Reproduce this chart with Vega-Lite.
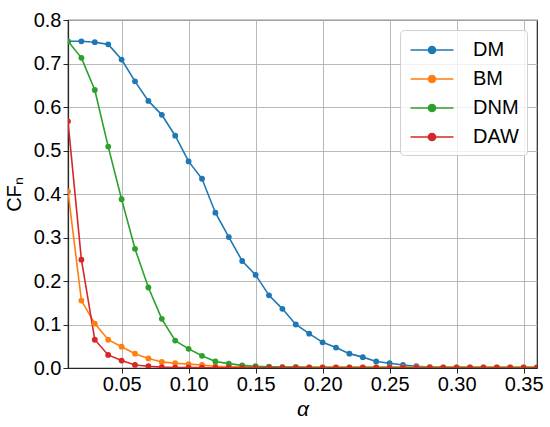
{
  "$schema": "https://vega.github.io/schema/vega-lite/v6.json",
  "autosize": "none",
  "width": 469,
  "height": 348,
  "padding": {"left": 68, "top": 20, "right": 13, "bottom": 59},
  "background": "white",
  "config": {
    "font": "Liberation Sans",
    "view": {"stroke": "#262626", "strokeWidth": 1.2},
    "axis": {
      "gridColor": "#b0b0b0", "gridWidth": 0.9, "gridOpacity": 1,
      "domainColor": "#262626", "domainWidth": 1.2,
      "tickColor": "#262626", "tickSize": 5,
      "labelFont": "Liberation Sans", "labelFontSize": 20, "labelColor": "#000",
      "titleFont": "Liberation Sans", "titleFontWeight": "normal", "titleColor": "#000"
    },
    "legend": {
      "labelFont": "Liberation Sans", "labelFontSize": 20, "labelColor": "#000"
    }
  },
  "data": {"values": [
    {"a":0.01,"s":"DM","v":0.751},{"a":0.02,"s":"DM","v":0.751},{"a":0.03,"s":"DM","v":0.749},{"a":0.04,"s":"DM","v":0.744},
    {"a":0.05,"s":"DM","v":0.709},{"a":0.06,"s":"DM","v":0.659},{"a":0.07,"s":"DM","v":0.614},{"a":0.08,"s":"DM","v":0.582},
    {"a":0.09,"s":"DM","v":0.534},{"a":0.10,"s":"DM","v":0.475},{"a":0.11,"s":"DM","v":0.435},{"a":0.12,"s":"DM","v":0.357},
    {"a":0.13,"s":"DM","v":0.301},{"a":0.14,"s":"DM","v":0.246},{"a":0.15,"s":"DM","v":0.214},{"a":0.16,"s":"DM","v":0.167},
    {"a":0.17,"s":"DM","v":0.136},{"a":0.18,"s":"DM","v":0.100},{"a":0.19,"s":"DM","v":0.079},{"a":0.20,"s":"DM","v":0.059},
    {"a":0.21,"s":"DM","v":0.047},{"a":0.22,"s":"DM","v":0.033},{"a":0.23,"s":"DM","v":0.025},{"a":0.24,"s":"DM","v":0.015},
    {"a":0.25,"s":"DM","v":0.011},{"a":0.26,"s":"DM","v":0.007},{"a":0.27,"s":"DM","v":0.004},{"a":0.28,"s":"DM","v":0.002},
    {"a":0.29,"s":"DM","v":0.001},{"a":0.30,"s":"DM","v":0.001},{"a":0.31,"s":"DM","v":0.001},{"a":0.32,"s":"DM","v":0.0005},
    {"a":0.33,"s":"DM","v":0.0005},{"a":0.34,"s":"DM","v":0.0003},{"a":0.35,"s":"DM","v":0.0003},{"a":0.36,"s":"DM","v":0.0002},

    {"a":0.01,"s":"BM","v":0.406},{"a":0.02,"s":"BM","v":0.155},{"a":0.03,"s":"BM","v":0.102},{"a":0.04,"s":"BM","v":0.065},
    {"a":0.05,"s":"BM","v":0.049},{"a":0.06,"s":"BM","v":0.033},{"a":0.07,"s":"BM","v":0.022},{"a":0.08,"s":"BM","v":0.014},
    {"a":0.09,"s":"BM","v":0.011},{"a":0.10,"s":"BM","v":0.009},{"a":0.11,"s":"BM","v":0.007},{"a":0.12,"s":"BM","v":0.004},
    {"a":0.13,"s":"BM","v":0.003},{"a":0.14,"s":"BM","v":0.003},{"a":0.15,"s":"BM","v":0.002},{"a":0.16,"s":"BM","v":0.002},
    {"a":0.17,"s":"BM","v":0.002},{"a":0.18,"s":"BM","v":0.002},{"a":0.19,"s":"BM","v":0.002},{"a":0.20,"s":"BM","v":0.002},
    {"a":0.21,"s":"BM","v":0.002},{"a":0.22,"s":"BM","v":0.002},{"a":0.23,"s":"BM","v":0.002},{"a":0.24,"s":"BM","v":0.002},
    {"a":0.25,"s":"BM","v":0.002},{"a":0.26,"s":"BM","v":0.002},{"a":0.27,"s":"BM","v":0.002},{"a":0.28,"s":"BM","v":0.002},
    {"a":0.29,"s":"BM","v":0.002},{"a":0.30,"s":"BM","v":0.002},{"a":0.31,"s":"BM","v":0.002},{"a":0.32,"s":"BM","v":0.002},
    {"a":0.33,"s":"BM","v":0.002},{"a":0.34,"s":"BM","v":0.002},{"a":0.35,"s":"BM","v":0.002},{"a":0.36,"s":"BM","v":0.002},

    {"a":0.01,"s":"DNM","v":0.751},{"a":0.02,"s":"DNM","v":0.713},{"a":0.03,"s":"DNM","v":0.639},{"a":0.04,"s":"DNM","v":0.509},
    {"a":0.05,"s":"DNM","v":0.388},{"a":0.06,"s":"DNM","v":0.274},{"a":0.07,"s":"DNM","v":0.185},{"a":0.08,"s":"DNM","v":0.113},
    {"a":0.09,"s":"DNM","v":0.063},{"a":0.10,"s":"DNM","v":0.044},{"a":0.11,"s":"DNM","v":0.028},{"a":0.12,"s":"DNM","v":0.015},
    {"a":0.13,"s":"DNM","v":0.010},{"a":0.14,"s":"DNM","v":0.006},{"a":0.15,"s":"DNM","v":0.004},{"a":0.16,"s":"DNM","v":0.003},
    {"a":0.17,"s":"DNM","v":0.002},{"a":0.18,"s":"DNM","v":0.002},{"a":0.19,"s":"DNM","v":0.001},{"a":0.20,"s":"DNM","v":0.001},
    {"a":0.21,"s":"DNM","v":0.001},{"a":0.22,"s":"DNM","v":0.001},{"a":0.23,"s":"DNM","v":0.001},{"a":0.24,"s":"DNM","v":0.001},
    {"a":0.25,"s":"DNM","v":0.001},{"a":0.26,"s":"DNM","v":0.001},{"a":0.27,"s":"DNM","v":0.001},{"a":0.28,"s":"DNM","v":0.001},
    {"a":0.29,"s":"DNM","v":0.001},{"a":0.30,"s":"DNM","v":0.001},{"a":0.31,"s":"DNM","v":0.001},{"a":0.32,"s":"DNM","v":0.001},
    {"a":0.33,"s":"DNM","v":0.001},{"a":0.34,"s":"DNM","v":0.001},{"a":0.35,"s":"DNM","v":0.001},{"a":0.36,"s":"DNM","v":0.001},

    {"a":0.01,"s":"DAW","v":0.567},{"a":0.02,"s":"DAW","v":0.249},{"a":0.03,"s":"DAW","v":0.065},{"a":0.04,"s":"DAW","v":0.030},
    {"a":0.05,"s":"DAW","v":0.017},{"a":0.06,"s":"DAW","v":0.007},{"a":0.07,"s":"DAW","v":0.004},{"a":0.08,"s":"DAW","v":0.002},
    {"a":0.09,"s":"DAW","v":0.001},{"a":0.10,"s":"DAW","v":0.001},{"a":0.11,"s":"DAW","v":0.001},{"a":0.12,"s":"DAW","v":0.0005},
    {"a":0.13,"s":"DAW","v":0.0005},{"a":0.14,"s":"DAW","v":0.0003},{"a":0.15,"s":"DAW","v":0.0003},{"a":0.16,"s":"DAW","v":0.0002},
    {"a":0.17,"s":"DAW","v":0.0002},{"a":0.18,"s":"DAW","v":0.0002},{"a":0.19,"s":"DAW","v":0.0001},{"a":0.20,"s":"DAW","v":0.0001},
    {"a":0.21,"s":"DAW","v":0.0001},{"a":0.22,"s":"DAW","v":0.0001},{"a":0.23,"s":"DAW","v":0.0001},{"a":0.24,"s":"DAW","v":0.0001},
    {"a":0.25,"s":"DAW","v":0.0001},{"a":0.26,"s":"DAW","v":0.0001},{"a":0.27,"s":"DAW","v":0.0001},{"a":0.28,"s":"DAW","v":0.0001},
    {"a":0.29,"s":"DAW","v":0.0001},{"a":0.30,"s":"DAW","v":0.0001},{"a":0.31,"s":"DAW","v":0.0001},{"a":0.32,"s":"DAW","v":0.0001},
    {"a":0.33,"s":"DAW","v":0.0001},{"a":0.34,"s":"DAW","v":0.0001},{"a":0.35,"s":"DAW","v":0.0001},{"a":0.36,"s":"DAW","v":0.0001}
  ]},
  "mark": {"type": "line", "strokeWidth": 1.6, "clip": true,
           "point": {"filled": true, "size": 34, "opacity": 1}},
  "encoding": {
    "x": {"field": "a", "type": "quantitative",
          "scale": {"domain": [0.01, 0.36], "nice": false, "zero": false},
          "axis": {"values": [0.05,0.10,0.15,0.20,0.25,0.30,0.35], "format": ".2f",
                   "labelPadding": 1, "title": "α", "titleFontSize": 21, "titleFontStyle": "italic",
                   "titlePadding": 4, "labelFlush": false}},
    "y": {"field": "v", "type": "quantitative",
          "scale": {"domain": [0, 0.8], "nice": false},
          "axis": {"values": [0,0.1,0.2,0.3,0.4,0.5,0.6,0.7,0.8], "format": ".1f",
                   "labelPadding": 2, "title": "CFₙ", "titleFontSize": 20, "titlePadding": 9}},
    "color": {"field": "s", "type": "nominal",
              "scale": {"domain": ["DM","BM","DNM","DAW"],
                        "range": ["#1f77b4","#ff7f0e","#2ca02c","#d62728"]},
              "legend": {"title": null, "orient": "top-right", "offset": 10,
                         "symbolType": "M-2,0H2M0.33,0A0.33,0.33,0,1,1,-0.33,0A0.33,0.33,0,1,1,0.33,0Z",
                         "symbolSize": 462, "symbolStrokeWidth": 1.6,
                         "symbolOffset": 12, "labelOffset": 29,
                         "rowPadding": 7,
                         "padding": 8, "fillColor": "rgba(255,255,255,0.8)",
                         "strokeColor": "#d0d0d0", "cornerRadius": 4,
                         "encode": {"symbols": {"update": {"fill": {"scale": "color", "field": "value"}, "fillOpacity": {"value": 1}}}}}},
    "order": {"field": "a", "type": "quantitative"}
  }
}
